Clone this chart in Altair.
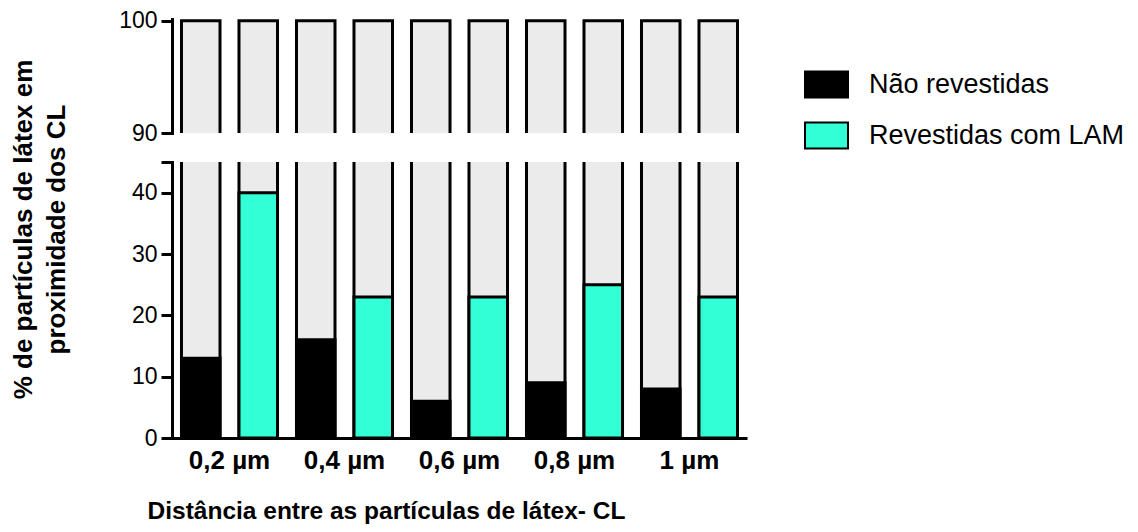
import altair as alt
import pandas as pd

distances = ["0,2 µm", "0,4 µm", "0,6 µm", "0,8 µm", "1 µm"]
series = ["Não revestidas", "Revestidas com LAM"]
nao_revestidas = [13, 16, 6, 9, 8]
revestidas_lam = [40, 23, 23, 25, 23]
total = 100

rows = []
for d, a, b in zip(distances, nao_revestidas, revestidas_lam):
    rows.append({"dist": d, "series": series[0], "value": a, "total": total, "base": 0})
    rows.append({"dist": d, "series": series[1], "value": b, "total": total, "base": 0})
df = pd.DataFrame(rows)

FONT = "Liberation Sans"
W = 575

x_enc = alt.X("dist:N", sort=distances,
              scale=alt.Scale(paddingInner=0, paddingOuter=0))
xoff = alt.XOffset("series:N", sort=series,
                   scale=alt.Scale(paddingInner=0.33, paddingOuter=0.165))

yaxis_common = dict(domainColor="black", domainWidth=3, tickColor="black",
                    tickWidth=3, tickSize=11, labelColor="black",
                    labelFontSize=23, labelFont=FONT, labelPadding=4,
                    grid=False, domainCap="square")

# Upper segment (90-100)
up_scale = alt.Scale(domain=[90, 100.15], nice=False, zero=False)
upper = alt.Chart(df).mark_bar(fill="#EBEBEB", stroke="black", strokeWidth=3, clip=True).encode(
    x=x_enc.axis(None),
    xOffset=xoff,
    y=alt.Y("total:Q", scale=up_scale,
            axis=alt.Axis(values=[90, 100], title=None, **yaxis_common)),
    y2="base:Q",
).properties(width=W, height=114)

# Lower segment (0-45)
low_scale = alt.Scale(domain=[0, 45], nice=False)
low_axis = alt.Axis(values=[0, 10, 20, 30, 40, 45],
                    labelExpr="datum.value == 45 ? '' : datum.label",
                    title=["% de partículas de látex em", "proximidade dos CL"],
                    titleFont=FONT, titleFontSize=26, titleFontWeight="bold",
                    titleColor="black", titleAngle=-90, titleBaseline="top",
                    titleAlign="center", titleX=-162, titleY=67,
                    titleLineHeight=33, **yaxis_common)

x_axis = alt.Axis(title="Distância entre as partículas de látex- CL",
                  labelAngle=0, labelFont=FONT, labelFontSize=26,
                  labelFontWeight="bold", labelColor="black", labelPadding=9,
                  ticks=False, tickSize=0, domainColor="black", domainWidth=3,
                  titleFont=FONT, titleFontSize=24.5, titleFontWeight="bold",
                  titleColor="black", titleX=214, titleY=61,
                  titleBaseline="top", titleAlign="center")

grey_low = alt.Chart(df).mark_bar(fill="#EBEBEB", stroke="black", strokeWidth=3, clip=True).encode(
    x=x_enc.axis(x_axis),
    xOffset=xoff,
    y=alt.Y("total:Q", scale=low_scale, axis=low_axis),
    y2="base:Q",
)

colored = alt.Chart(df).mark_bar(stroke="black", strokeWidth=3).encode(
    x=x_enc.axis(x_axis),
    xOffset=xoff,
    y=alt.Y("value:Q", scale=low_scale, axis=low_axis),
    y2="base:Q",
    color=alt.Color("series:N", sort=series,
                    scale=alt.Scale(domain=series, range=["#000000", "#33FFD6"]),
                    legend=alt.Legend(title=None, orient="none", legendX=632, legendY=43,
                                      symbolType="M-1,-0.6H1V0.6H-1Z", symbolSize=1849,
                                      symbolStrokeColor="black", symbolStrokeWidth=2,
                                      symbolOpacity=1, labelLimit=500,
                                      labelFont=FONT, labelFontSize=27, labelColor="black",
                                      labelOffset=20, rowPadding=11)),
)

lower = alt.layer(grey_low, colored).properties(width=W, height=276)

chart = alt.vconcat(upper, lower, spacing=29, bounds="flush").configure_view(
    stroke=None
).properties(padding={"left": 2, "top": 1, "right": 5, "bottom": 5})

chart.save("out.html", embed_options={"renderer": "svg", "actions": False})
